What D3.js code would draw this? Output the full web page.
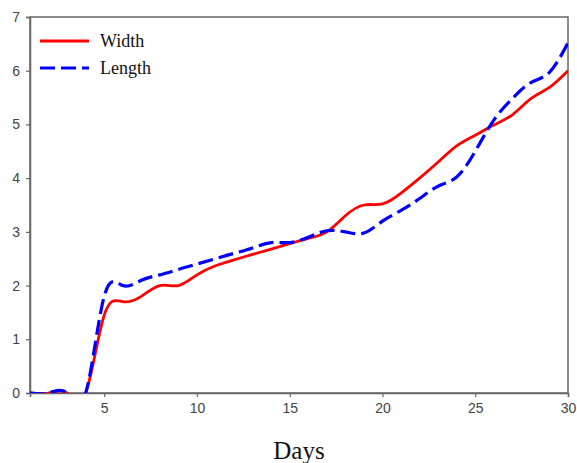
<!DOCTYPE html>
<html>
<head>
<meta charset="utf-8">
<script src="https://cdn.jsdelivr.net/npm/d3@7"></script>
<style>
  body { margin: 0; background: #fff; }
  svg { display: block; }
</style>
</head>
<body>
<div id="chart"></div>
<script>
// daily readings, days 1..30
const days = d3.range(1, 31);
const widthVals = [0, 0, 0, 0, 1.45, 1.7, 1.8, 2.0, 2.0, 2.2, 2.37, 2.48, 2.58, 2.68, 2.78,
  2.88, 3.0, 3.3, 3.5, 3.52, 3.72, 4.0, 4.3, 4.6, 4.8, 4.99, 5.18, 5.48, 5.69, 6.0];
const lengthVals = [0, 0, 0, 0, 1.8, 2.0, 2.1, 2.2, 2.3, 2.4, 2.5, 2.6, 2.7, 2.8, 2.8,
  2.9, 3.02, 3.0, 2.98, 3.2, 3.4, 3.62, 3.85, 4.02, 4.5, 5.08, 5.48, 5.78, 5.97, 6.52];
const xTicks = [5, 10, 15, 20, 25, 30];
const yTicks = [0, 1, 2, 3, 4, 5, 6, 7];

const W = 577, H = 463;
const margin = { top: 17, right: 9, bottom: 70, left: 30 };
const w = W - margin.left - margin.right;
const h = H - margin.top - margin.bottom;

const svg = d3.select("#chart").append("svg")
  .attr("width", W)
  .attr("height", H);

const g = svg.append("g")
  .attr("transform", `translate(${margin.left},${margin.top})`);

const x = d3.scaleLinear().domain([1, 30]).range([0, w]);
const y = d3.scaleLinear().domain([0, 7]).range([h, 0]);

g.append("clipPath").attr("id", "clip")
  .append("rect").attr("width", w).attr("height", h);

const axisColor = "#666";

// frame
g.append("rect")
  .attr("width", w).attr("height", h)
  .attr("fill", "none")
  .attr("stroke", axisColor)
  .attr("stroke-width", 1.5);

const xAxis = g.append("g")
  .attr("transform", `translate(0,${h})`)
  .call(d3.axisBottom(x).tickValues(xTicks).tickFormat(d3.format("d")).tickSize(4).tickPadding(6));

const yAxis = g.append("g")
  .call(d3.axisLeft(y).tickValues(yTicks).tickFormat(d3.format("d")).tickSize(4).tickPadding(6));

[xAxis, yAxis].forEach(a => {
  a.select(".domain").attr("stroke", axisColor).attr("stroke-width", 1.5);
  a.selectAll(".tick line").attr("stroke", axisColor).attr("stroke-width", 1.2);
  a.selectAll(".tick text")
    .attr("fill", "#444")
    .style("font-family", "Liberation Sans, Arial, sans-serif")
    .style("font-size", "14px");
});

const line = vals => d3.line()
  .x((d, i) => x(days[i]))
  .y(d => y(d))
  .curve(d3.curveNatural)(vals);

const plot = g.append("g").attr("clip-path", "url(#clip)");

plot.append("path")
  .attr("d", line(widthVals))
  .attr("fill", "none")
  .attr("stroke", "#ff0000")
  .attr("stroke-width", 2.8);

plot.append("path")
  .attr("d", line(lengthVals))
  .attr("fill", "none")
  .attr("stroke", "#0000ff")
  .attr("stroke-width", 3.2)
  .attr("stroke-dasharray", "15,6");

// legend
const legend = svg.append("g");
const items = [
  { name: "Width", color: "#ff0000", dash: null, sw: 2.8 },
  { name: "Length", color: "#0000ff", dash: "15,6", sw: 3.2 }
];
items.forEach((it, i) => {
  const ly = 41 + i * 27;
  legend.append("line")
    .attr("x1", 40).attr("x2", 89)
    .attr("y1", ly).attr("y2", ly)
    .attr("stroke", it.color)
    .attr("stroke-width", it.sw)
    .attr("stroke-dasharray", it.dash);
  legend.append("text")
    .attr("x", 100).attr("y", ly + 6)
    .style("font-family", "Liberation Serif, Times New Roman, serif")
    .style("font-size", "18px")
    .attr("fill", "#111")
    .text(it.name);
});

svg.append("text")
  .attr("x", margin.left + w / 2)
  .attr("y", 459)
  .attr("text-anchor", "middle")
  .style("font-family", "Liberation Serif, Times New Roman, serif")
  .style("font-size", "25px")
  .attr("fill", "#111")
  .text("Days");
</script>
</body>
</html>
